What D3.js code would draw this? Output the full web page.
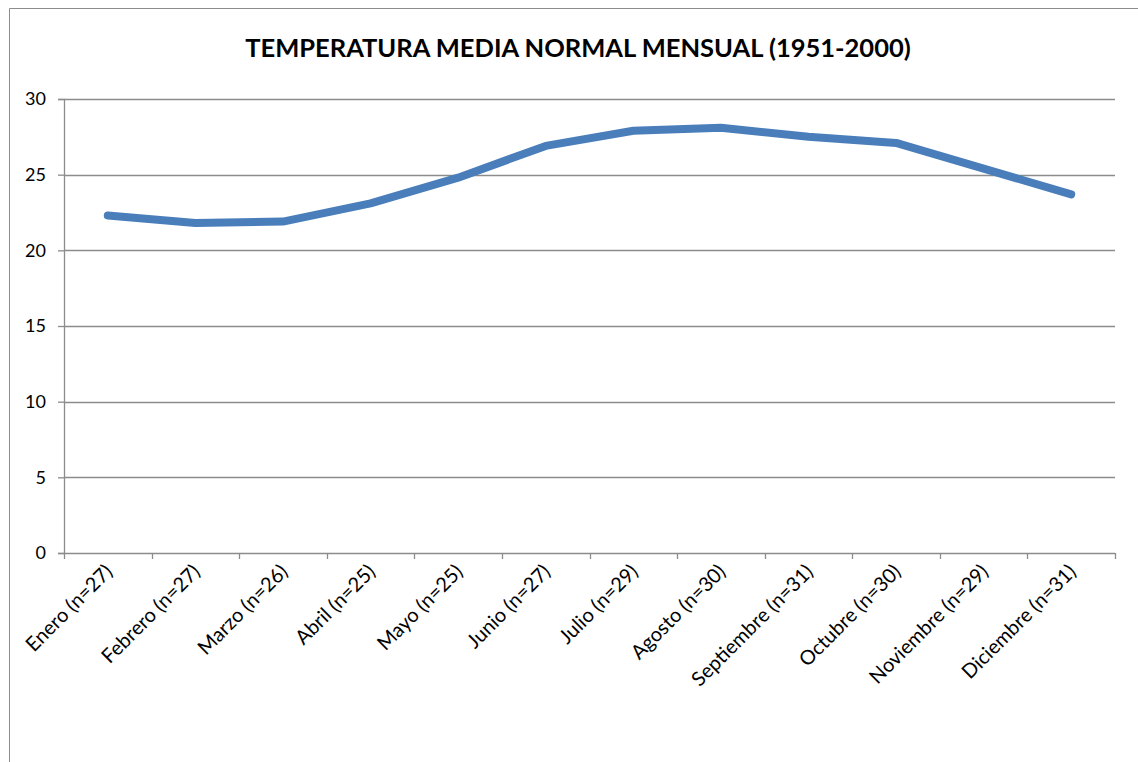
<!DOCTYPE html>
<html>
<head>
<meta charset="utf-8">
<script src="https://cdn.jsdelivr.net/npm/d3@7"></script>
<style>
  body { margin: 0; background: #fff; }
  text { font-family: Lato, "Open Sans", sans-serif; fill: #000; }
</style>
</head>
<body>
<div id="chart"></div>
<script>
var svgWidth = 1138;
var svgHeight = 762;

var margin = { top: 99, right: 23, bottom: 209, left: 64 };
var width = svgWidth - margin.left - margin.right;
var height = svgHeight - margin.top - margin.bottom;

// data
var months = ["Enero (n=27)", "Febrero (n=27)", "Marzo (n=26)", "Abril (n=25)", "Mayo (n=25)",
  "Junio (n=27)", "Julio (n=29)", "Agosto (n=30)", "Septiembre (n=31)", "Octubre (n=30)",
  "Noviembre (n=29)", "Diciembre (n=31)"];
var temps = [22.3, 21.8, 21.9, 23.1, 24.8, 26.9, 27.9, 28.1, 27.5, 27.1, 25.4, 23.7];
var yTicks = [0, 5, 10, 15, 20, 25, 30];

var svg = d3.select("#chart")
  .append("svg")
  .attr("width", svgWidth)
  .attr("height", svgHeight);

// outer frame (cropped at right/bottom)
svg.append("path")
  .attr("d", `M9.5,${svgHeight} V8.5 H${svgWidth}`)
  .attr("fill", "none")
  .attr("stroke", "#8c8c8c")
  .attr("stroke-width", 1);

svg.append("text")
  .attr("x", 578)
  .attr("y", 57)
  .attr("text-anchor", "middle")
  .style("font-size", "25.5px")
  .style("font-weight", "bold")
  .text("TEMPERATURA MEDIA NORMAL MENSUAL (1951-2000)");

var chartGroup = svg.append("g")
  .attr("transform", `translate(${margin.left}, ${margin.top})`);

var xScale = d3.scalePoint()
  .domain(months)
  .range([0, width])
  .padding(0.5);

var xBand = d3.scaleBand()
  .domain(months)
  .range([0, width]);

var yScale = d3.scaleLinear()
  .domain([0, 30])
  .range([height, 0]);

// gridlines
chartGroup.selectAll(".grid")
  .data(yTicks.filter(d => d > 0))
  .enter()
  .append("line")
  .attr("x1", 0)
  .attr("x2", width)
  .attr("y1", d => Math.round(yScale(d)) + 0.5)
  .attr("y2", d => Math.round(yScale(d)) + 0.5)
  .attr("stroke", "#8c8c8c")
  .attr("stroke-width", 1.3);

// y axis
var leftAxis = d3.axisLeft(yScale).tickValues(yTicks).tickSize(6).tickPadding(12);
var yAxis = chartGroup.append("g").call(leftAxis);
yAxis.select(".domain").attr("stroke", "#8c8c8c").attr("stroke-width", 1.3);
yAxis.selectAll(".tick line").attr("stroke", "#8c8c8c").attr("stroke-width", 1.3);
yAxis.selectAll(".tick text").style("font-size", "18px").attr("font-family", null);

// x axis: baseline + ticks at category boundaries
var xAxisG = chartGroup.append("g").attr("transform", `translate(0, ${height})`);
xAxisG.append("line")
  .attr("x1", 0).attr("x2", width)
  .attr("y1", 0.5).attr("y2", 0.5)
  .attr("stroke", "#8c8c8c").attr("stroke-width", 1.3);
var bounds = months.map(m => xBand(m)).concat([width]);
xAxisG.selectAll(".xtick")
  .data(bounds)
  .enter()
  .append("line")
  .attr("x1", d => Math.round(d) + 0.5)
  .attr("x2", d => Math.round(d) + 0.5)
  .attr("y1", 0)
  .attr("y2", 6)
  .attr("stroke", "#8c8c8c")
  .attr("stroke-width", 1.3);

xAxisG.selectAll(".xlabel")
  .data(months)
  .enter()
  .append("text")
  .attr("transform", d => `translate(${xScale(d) + 1}, 15) rotate(-45)`)
  .attr("text-anchor", "end")
  .attr("dy", "0.35em")
  .style("font-size", "20px")
  .text(d => d);

// line
var line = d3.line()
  .x((d, i) => xScale(months[i]))
  .y(d => yScale(d));

chartGroup.append("path")
  .datum(temps)
  .attr("d", line)
  .attr("fill", "none")
  .attr("stroke", "#4a7ebb")
  .attr("stroke-width", 8)
  .attr("stroke-linecap", "round")
  .attr("stroke-linejoin", "round");
</script>
</body>
</html>
